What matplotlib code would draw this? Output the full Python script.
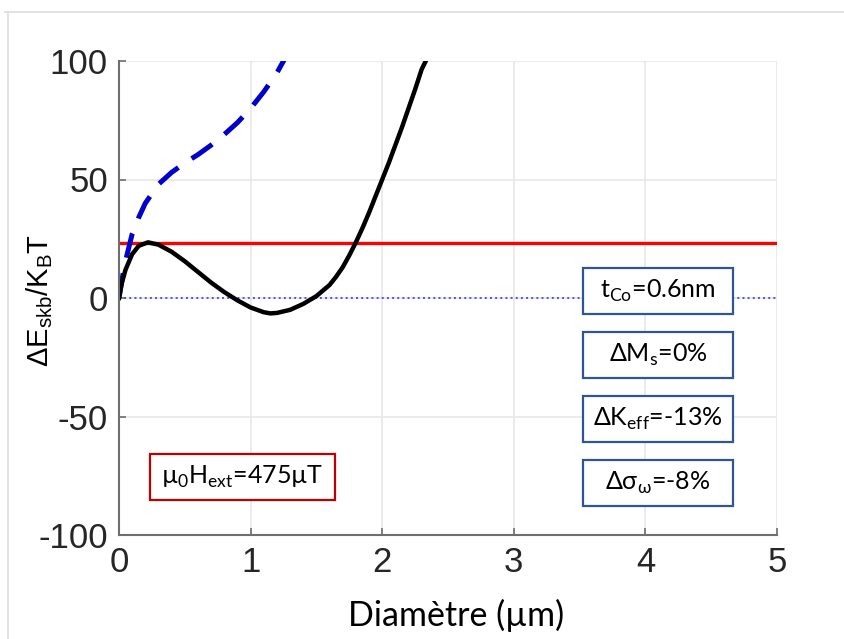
import matplotlib
matplotlib.use('Agg')
import matplotlib.pyplot as plt
from matplotlib.patches import Rectangle
from matplotlib.lines import Line2D

plt.rcParams['mathtext.fontset'] = 'custom'
plt.rcParams['mathtext.rm'] = 'Lato'
plt.rcParams['mathtext.sf'] = 'Liberation Sans'
plt.rcParams['mathtext.fallback'] = 'stixsans'
plt.rcParams['axes.unicode_minus'] = False

# energy barrier, black solid curve
d_black = [0, 0.02, 0.05, 0.1, 0.15, 0.22, 0.3, 0.4, 0.5, 0.6, 0.7, 0.8, 0.9,
           1.0, 1.1, 1.15, 1.2, 1.3, 1.4, 1.5, 1.6, 1.65, 1.7, 1.75, 1.8, 1.85,
           1.9, 1.95, 2.0, 2.05, 2.1, 2.15, 2.2, 2.25, 2.3, 2.34]
e_black = [0, 6, 12, 18.5, 22, 23.5, 22.5, 19.5, 15.5, 11, 6.5, 2.5, -1,
           -4, -6, -6.5, -6.3, -5, -2.5, 0.8, 5.5, 9, 13, 18, 23.5, 29.5,
           36, 43, 50, 57, 64.5, 72, 80, 88, 96.5, 101]

# blue dashed curve
d_blue = [0, 0.03, 0.06, 0.1, 0.15, 0.2, 0.3, 0.4, 0.5, 0.6, 0.7, 0.8,
          0.9, 1.0, 1.1, 1.2, 1.26]
e_blue = [0, 10, 18, 27, 34, 40, 48, 53, 57, 60.5, 64.5, 69,
          74, 80, 87, 95, 101]

threshold = 23
x_ticks = [0, 1, 2, 3, 4, 5]
y_ticks = [-100, -50, 0, 50, 100]

param_labels = [r'$\mathrm{t}_{\mathrm{Co}}$=0.6nm', r'ΔM$_{\mathrm{s}}$=0%',
                r'ΔK$_{\mathrm{eff}}$=-13%', r'Δσ$_{\mathrm{ω}}$=-8%']
field_label = r'µ$_{\mathrm{0}}$H$_{\mathrm{ext}}$=475µT'

W, H = 845, 639
fig = plt.figure(figsize=(W / 100, H / 100), dpi=100)
ax = fig.add_axes([119 / W, 1 - 535 / H, (777 - 119) / W, (535 - 61) / H])

ax.plot([0, 5], [0, 0], ':', color='#4d4dff', lw=1.4)
ax.plot([0, 5], [threshold, threshold], color='#ff0000', lw=2.4)
ax.plot(d_blue, e_blue, '--', color='#0000cc', lw=3.6, dashes=(5, 3.2))
ax.plot(d_black, e_black, color='black', lw=3.2)

ax.set_xlim(0, 5)
ax.set_ylim(-100, 100)
ax.set_xticks(x_ticks)
ax.set_yticks(y_ticks)
ax.grid(True, color='#e6e6e6', lw=1.1)
ax.set_axisbelow(True)
for s in ['top', 'right']:
    ax.spines[s].set_visible(False)
for s in ['left', 'bottom']:
    ax.spines[s].set_color('#6e6e6e')
    ax.spines[s].set_linewidth(1.5)
ax.tick_params(direction='in', length=5, width=1.2, color='#6e6e6e',
               labelsize=25, labelcolor='#262626', pad=8)
for lab in ax.get_xticklabels() + ax.get_yticklabels():
    lab.set_family('Liberation Sans')

fig.text(40 / W, 1 - 300 / H, r'ΔE$_{\mathsf{skb}}$/K$_{\mathsf{B}}$T',
         rotation=90, ha='center', va='center', fontsize=21,
         family='Liberation Sans', color='black')
fig.text(456 / W, 1 - 615 / H, 'Diamètre (µm)', ha='center', va='center',
         fontsize=24.5, family='Lato')

# outer frame
fig.add_artist(Line2D([5 / W, 1], [1 - 12 / H, 1 - 12 / H], color='#dddddd', lw=1.2))
fig.add_artist(Line2D([8 / W, 8 / W], [0, 1 - 12 / H], color='#dddddd', lw=1.2))

box_tops = [268, 332, 396, 460]
for lab, top in zip(param_labels, box_tops):
    fig.add_artist(Rectangle((583 / W, 1 - (top + 46) / H), 150 / W, 46 / H,
                             transform=fig.transFigure, fill=True, facecolor='white',
                             edgecolor='#2f5597', lw=1.6))
    fig.text(658 / W, 1 - (top + 23) / H, lab, ha='center', va='center',
             fontsize=18, family='Lato')

fig.add_artist(Rectangle((150 / W, 1 - 500 / H), 185 / W, 46 / H,
                         transform=fig.transFigure, fill=True, facecolor='white',
                         edgecolor='#c00000', lw=1.6))
fig.text(242 / W, 1 - 477 / H, field_label, ha='center', va='center',
         fontsize=18, family='Lato')

fig.savefig('out.png', dpi=100)
